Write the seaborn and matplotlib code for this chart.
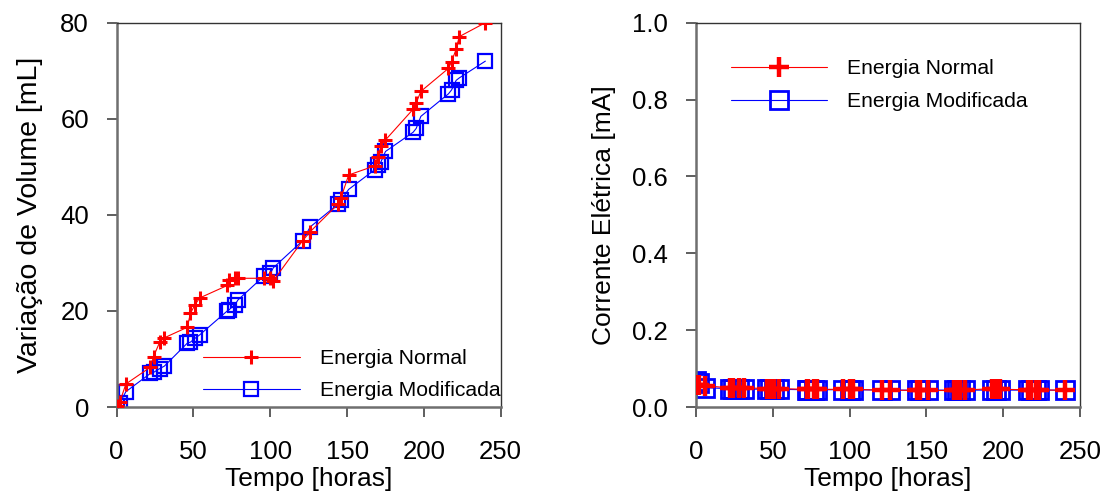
import matplotlib
matplotlib.use("Agg")
import matplotlib.pyplot as plt
import seaborn as sns

# tempo de ensaio [horas]
tempo = [0, 2, 6, 22, 24, 28, 31, 46, 48, 51, 54, 72, 73, 77, 79, 96, 100, 102,
         121, 126, 144, 146, 151, 168, 170, 172, 175, 193, 195, 198, 216, 218,
         221, 223, 240]

# variacao de volume [mL]
vol_normal = [0.3, 1.0, 4.8, 8.3, 10.5, 13.5, 14.4, 16.6, 19.5, 21.3, 22.7,
              25.3, 26.5, 26.8, 26.8, 26.8, 26.8, 26.3, 34.6, 36.5, 42.2, 43.5,
              48.3, 50.2, 52.0, 54.3, 55.6, 62.0, 63.3, 65.7, 70.5, 71.9, 74.5,
              77.1, 80.0]
vol_modificada = [0.2, 0.8, 3.2, 7.0, 7.2, 8.0, 8.5, 13.3, 13.5, 14.3, 15.0,
                  20.0, 20.2, 21.3, 22.3, 27.3, 27.8, 29.0, 34.6, 37.5, 42.2,
                  43.0, 45.3, 49.4, 50.3, 51.0, 53.2, 57.2, 58.0, 60.5, 65.2,
                  66.0, 68.0, 68.5, 72.0]

# corrente eletrica [mA]
cor_normal = [0.058, 0.057, 0.055, 0.050, 0.050, 0.050, 0.050, 0.048, 0.048,
              0.048, 0.048, 0.046, 0.046, 0.046, 0.046, 0.046, 0.046, 0.046,
              0.044, 0.044, 0.043, 0.043, 0.043, 0.043, 0.043, 0.044, 0.044,
              0.048, 0.046, 0.046, 0.045, 0.045, 0.045, 0.045, 0.043]
cor_modificada = [0.068, 0.062, 0.050, 0.048, 0.047, 0.047, 0.047, 0.046,
                  0.046, 0.046, 0.046, 0.045, 0.045, 0.045, 0.045, 0.045,
                  0.045, 0.045, 0.044, 0.044, 0.044, 0.044, 0.044, 0.044,
                  0.044, 0.044, 0.044, 0.044, 0.044, 0.044, 0.044, 0.044,
                  0.044, 0.044, 0.044]

LABELS = ["Energia Normal", "Energia Modificada"]
x_ticks = [0, 50, 100, 150, 200, 250]

sns.set_theme(style="ticks")
plt.rcParams["font.family"] = ["Liberation Sans", "DejaVu Sans"]
plt.rcParams.update({"text.color": "black", "axes.labelcolor": "black",
                     "xtick.color": "black", "ytick.color": "black"})


def style_axes(ax):
    for side in ["top", "right"]:
        ax.spines[side].set_color("#333333")
        ax.spines[side].set_linewidth(1.0)
    for side in ["left", "bottom"]:
        ax.spines[side].set_color("#6f6f6f")
        ax.spines[side].set_linewidth(1.8)
    ax.tick_params(direction="out", length=7, width=1.1, labelsize=18.5,
                   color="#333333")
    ax.tick_params(axis="x", pad=17)
    ax.tick_params(axis="y", pad=13)
    ax.set_xlim(0, 250)
    ax.set_xticks(x_ticks)
    ax.set_xlabel("Tempo [horas]", fontsize=19, labelpad=2)


fig = plt.figure(figsize=(11.09, 4.98), dpi=100)
ax1 = fig.add_axes([0.1052, 0.1827, 0.3463, 0.7717])
ax2 = fig.add_axes([0.6276, 0.1827, 0.3463, 0.7717])

# painel esquerdo: volume
sns.lineplot(x=tempo, y=vol_modificada, ax=ax1, color="#0000ff", lw=0.8,
             marker="s", markersize=10, mfc="none", mec="#0000ff", mew=1.6,
             label=LABELS[1], estimator=None, sort=False, zorder=2)
sns.lineplot(x=tempo, y=vol_normal, ax=ax1, color="#ff0000", lw=0.8,
             marker="+", markersize=10.5, mec="#ff0000", mew=2.2,
             label=LABELS[0], estimator=None, sort=False, zorder=3)
style_axes(ax1)
ax1.set_ylim(0, 80)
ax1.set_yticks([0, 20, 40, 60, 80])
ax1.set_ylabel("Variação de Volume [mL]", fontsize=20.5, labelpad=12)
h, l = ax1.get_legend_handles_labels()
ax1.legend(h[::-1], l[::-1], loc="lower right", frameon=False, fontsize=15.2,
           handlelength=4.6, handletextpad=0.95, labelspacing=0.62,
           borderaxespad=0.0, bbox_to_anchor=(1.022, -0.005))

# painel direito: corrente
sns.lineplot(x=tempo, y=cor_modificada, ax=ax2, color="#0000ff", lw=0.8,
             marker="s", markersize=13.5, mfc="none", mec="#0000ff", mew=2.0,
             label=LABELS[1], estimator=None, sort=False, zorder=2)
sns.lineplot(x=tempo, y=cor_normal, ax=ax2, color="#ff0000", lw=0.8,
             marker="+", markersize=14, mec="#ff0000", mew=3.2,
             label=LABELS[0], estimator=None, sort=False, zorder=3)
style_axes(ax2)
ax2.set_ylim(0, 1.0)
ax2.set_yticks([0.0, 0.2, 0.4, 0.6, 0.8, 1.0])
ax2.set_yticklabels([f"{v:.1f}" for v in [0.0, 0.2, 0.4, 0.6, 0.8, 1.0]])
ax2.set_ylabel("Corrente Elétrica [mA]", fontsize=19, labelpad=12)
h, l = ax2.get_legend_handles_labels()
ax2.legend(h[::-1], l[::-1], loc="upper left", frameon=False, fontsize=15.2,
           handlelength=4.55, handletextpad=0.92, labelspacing=0.65,
           bbox_to_anchor=(0.07, 0.927), borderaxespad=0.0)

fig.savefig("out.png", dpi=100)
